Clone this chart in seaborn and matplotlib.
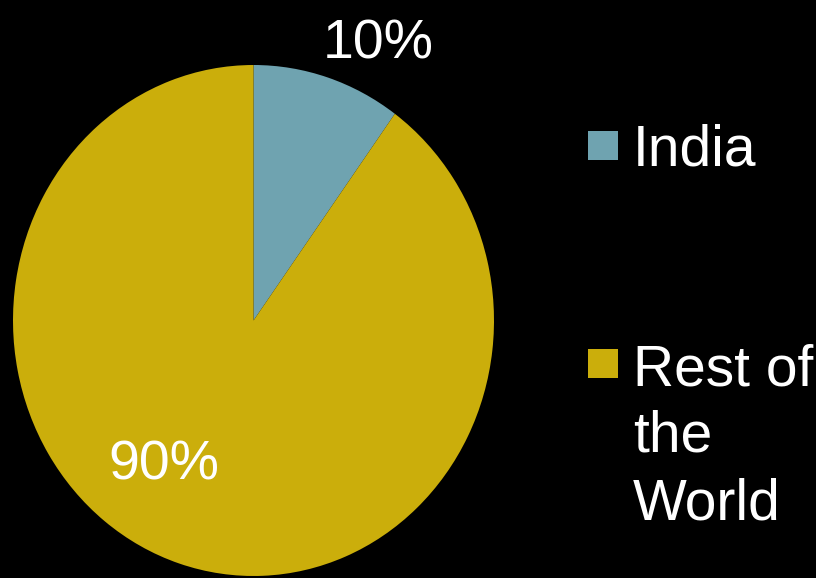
import matplotlib
matplotlib.use("Agg")
import matplotlib.pyplot as plt
import seaborn as sns
from matplotlib.patches import Rectangle

# Data
categories = ["India", "Rest of\nthe\nWorld"]
values = [10, 90]
colors = ["#6FA3B0", "#CBAE0B"]
pct_labels = [f"{v}%" for v in values]

sns.set_theme(style="dark", rc={"axes.facecolor": "black", "figure.facecolor": "black"})
plt.rcParams['font.family'] = ['Liberation Sans', 'DejaVu Sans']

W, H = 816, 578
fig = plt.figure(figsize=(W / 100, H / 100), dpi=100)
fig.patch.set_facecolor("black")

# Pie axes spanning the (vertically stretched) ellipse
ax = fig.add_axes([13 / W, 2 / H, 481 / W, 511 / H])
wedges, _ = ax.pie(values, colors=colors, startangle=90, counterclock=False,
                   radius=1, wedgeprops=dict(linewidth=0))
ax.set_aspect('auto')
ax.set_xlim(-1, 1)
ax.set_ylim(-1, 1)
ax.axis('off')

# Percentage labels (baseline positions in axes data units)
label_pos = [(0.518, 1.027), (-0.372, -0.624)]
for (x, y), t in zip(label_pos, pct_labels):
    ax.text(x, y, t, ha='center', va='baseline', color='white', fontsize=40,
            clip_on=False)

# Legend drawn manually: square aligned with the first line of each label
legend_rows = [(131, 165), (349, 385)]  # (square top px, first baseline px)
line_step = 67
for (sq_top, base), cat, col in zip(legend_rows, categories, colors):
    fig.add_artist(Rectangle((588 / W, 1 - (sq_top + 29) / H), 30 / W, 29 / H,
                             transform=fig.transFigure, facecolor=col,
                             edgecolor='none'))
    for i, line in enumerate(cat.split("\n")):
        fig.text(633 / W, 1 - (base + i * line_step) / H, line, color='white',
                 fontsize=41, ha='left', va='baseline')

fig.savefig("out.png", dpi=100, facecolor="black")
